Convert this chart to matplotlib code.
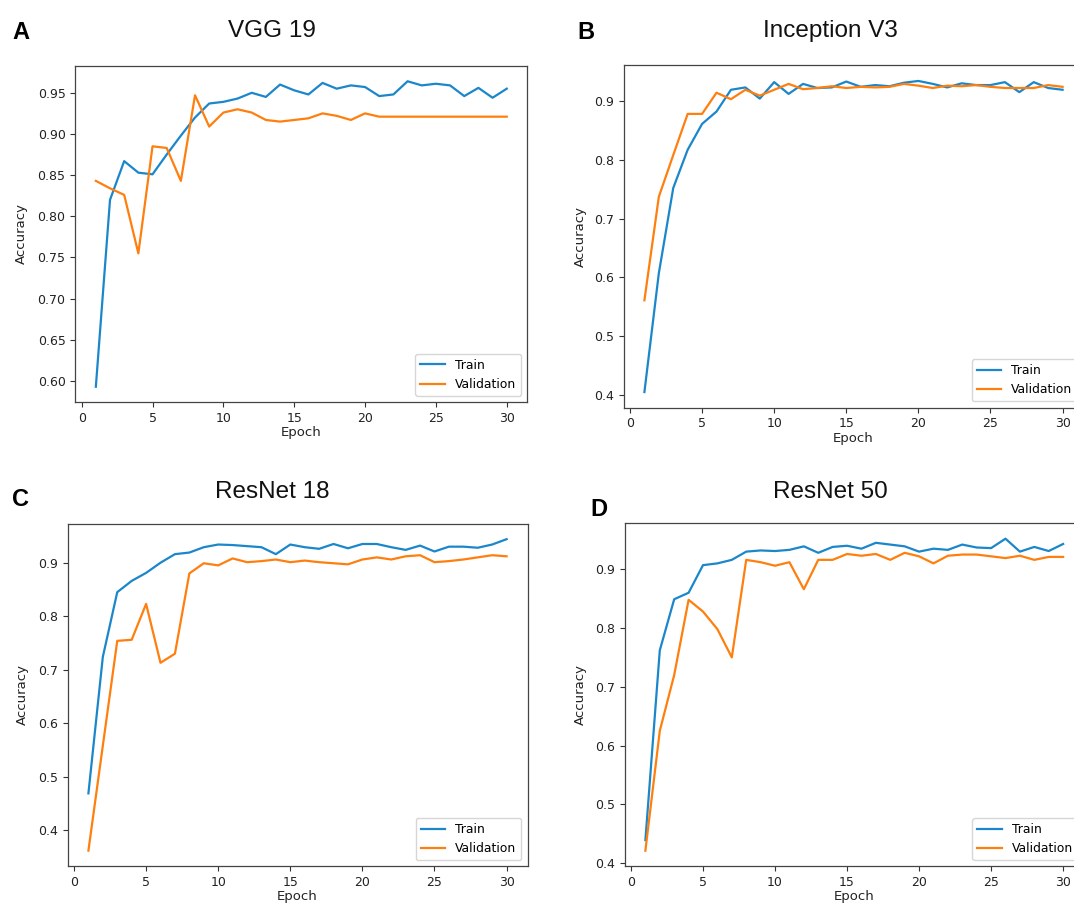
import matplotlib
matplotlib.use("Agg")
import matplotlib.pyplot as plt
import numpy as np

epochs = list(range(1, 31))

vgg_train = [0.593, 0.820, 0.867, 0.853, 0.851, 0.875, 0.898, 0.920, 0.937, 0.939,
             0.943, 0.950, 0.945, 0.960, 0.953, 0.948, 0.962, 0.955, 0.959, 0.957,
             0.946, 0.948, 0.964, 0.959, 0.961, 0.959, 0.946, 0.956, 0.944, 0.955]
vgg_val = [0.843, 0.834, 0.826, 0.755, 0.885, 0.883, 0.843, 0.947, 0.909, 0.926,
           0.930, 0.926, 0.917, 0.915, 0.917, 0.919, 0.925, 0.922, 0.917, 0.925,
           0.921, 0.921, 0.921, 0.921, 0.921, 0.921, 0.921, 0.921, 0.921, 0.921]

inc_train = [0.405, 0.607, 0.752, 0.817, 0.861, 0.882, 0.919, 0.923, 0.904, 0.932,
             0.912, 0.929, 0.922, 0.923, 0.933, 0.924, 0.927, 0.925, 0.931, 0.934,
             0.929, 0.923, 0.930, 0.927, 0.927, 0.932, 0.915, 0.932, 0.922, 0.919]
inc_val = [0.561, 0.737, 0.808, 0.878, 0.878, 0.914, 0.903, 0.919, 0.909, 0.919,
           0.929, 0.920, 0.922, 0.925, 0.922, 0.924, 0.923, 0.924, 0.929, 0.926,
           0.922, 0.926, 0.925, 0.927, 0.924, 0.922, 0.922, 0.922, 0.927, 0.924]

r18_train = [0.469, 0.724, 0.845, 0.866, 0.881, 0.900, 0.916, 0.919, 0.929, 0.934,
             0.933, 0.931, 0.929, 0.916, 0.934, 0.929, 0.926, 0.935, 0.927, 0.935,
             0.935, 0.929, 0.924, 0.932, 0.921, 0.930, 0.930, 0.928, 0.934, 0.944]
r18_val = [0.362, 0.558, 0.754, 0.756, 0.823, 0.713, 0.730, 0.880, 0.899, 0.895,
           0.908, 0.901, 0.903, 0.906, 0.901, 0.904, 0.901, 0.899, 0.897, 0.906,
           0.910, 0.906, 0.912, 0.914, 0.901, 0.903, 0.906, 0.910, 0.914, 0.912]

r50_train = [0.439, 0.762, 0.849, 0.860, 0.907, 0.910, 0.916, 0.930, 0.932, 0.931,
             0.933, 0.939, 0.928, 0.938, 0.940, 0.935, 0.945, 0.942, 0.939, 0.930,
             0.935, 0.933, 0.942, 0.937, 0.936, 0.952, 0.930, 0.938, 0.931, 0.943]
r50_val = [0.421, 0.625, 0.720, 0.848, 0.828, 0.798, 0.750, 0.916, 0.912, 0.906,
           0.912, 0.866, 0.916, 0.916, 0.926, 0.923, 0.926, 0.916, 0.928, 0.922,
           0.910, 0.923, 0.925, 0.925, 0.922, 0.919, 0.923, 0.916, 0.921, 0.921]

titles = ["VGG 19", "Inception V3", "ResNet 18", "ResNet 50"]
letters = ["A", "B", "C", "D"]
series = [(vgg_train, vgg_val), (inc_train, inc_val), (r18_train, r18_val), (r50_train, r50_val)]

W, H = 1074, 909
fig = plt.figure(figsize=(W / 100, H / 100), dpi=100)
fig.patch.set_facecolor("white")

# axes boxes in pixels: left, right, top, bottom
boxes = [(75.3, 527.3, 66, 402), (623.5, 1083.5, 65.4, 407.6),
         (67.5, 527.5, 523.6, 866.2), (624.5, 1084, 523.1, 866.3)]
title_pos = [(272, 37), (830, 37), (272, 498), (830, 498)]
letter_pos = [(12, 39), (577, 39), (12, 506), (590, 516)]
ylabel_x = [28, 587, 29, 587]

blue = "#1b87ca"
orange = "#ff7f0e"

for i, ((l, r, t, b), (tr, va)) in enumerate(zip(boxes, series)):
    ax = fig.add_axes([l / W, 1 - b / H, (r - l) / W, (b - t) / H])
    ax.plot(epochs, tr, color=blue, lw=1.6, label="Train")
    ax.plot(epochs, va, color=orange, lw=1.6, label="Validation")
    ax.set_xticks([0, 5, 10, 15, 20, 25, 30])
    if i == 0:
        ax.set_yticks(np.arange(0.60, 0.951, 0.05))
        ax.yaxis.set_major_formatter(matplotlib.ticker.FormatStrFormatter("%.2f"))
    else:
        ax.set_yticks(np.arange(0.4, 0.91, 0.1))
        ax.yaxis.set_major_formatter(matplotlib.ticker.FormatStrFormatter("%.1f"))
    ax.tick_params(labelsize=9, colors="#333333", labelcolor="#222222", length=3.5, width=0.8)
    for s in ax.spines.values():
        s.set_color("#444444")
        s.set_linewidth(0.9)
    ax.set_xlabel("Epoch", fontsize=9.5, color="#222222", labelpad=1)
    ax.set_ylabel("Accuracy", fontsize=9.5, color="#222222")
    ax.yaxis.set_label_coords((ylabel_x[i] - l) / (r - l), 0.5, transform=ax.transAxes)
    ax.legend(loc="lower right", fontsize=8.9, framealpha=0.8, borderaxespad=0.5)
    tx, ty = title_pos[i]
    fig.text(tx / W, 1 - ty / H, titles[i], fontsize=17.5, family="Liberation Sans",
             ha="center", va="baseline", color="#111111")
    lx, ly = letter_pos[i]
    fig.text(lx / W, 1 - ly / H, letters[i], fontsize=17, family="Liberation Sans",
             fontweight="bold", ha="left", va="baseline", color="black")

fig.savefig("out.png", dpi=100, facecolor="white")
